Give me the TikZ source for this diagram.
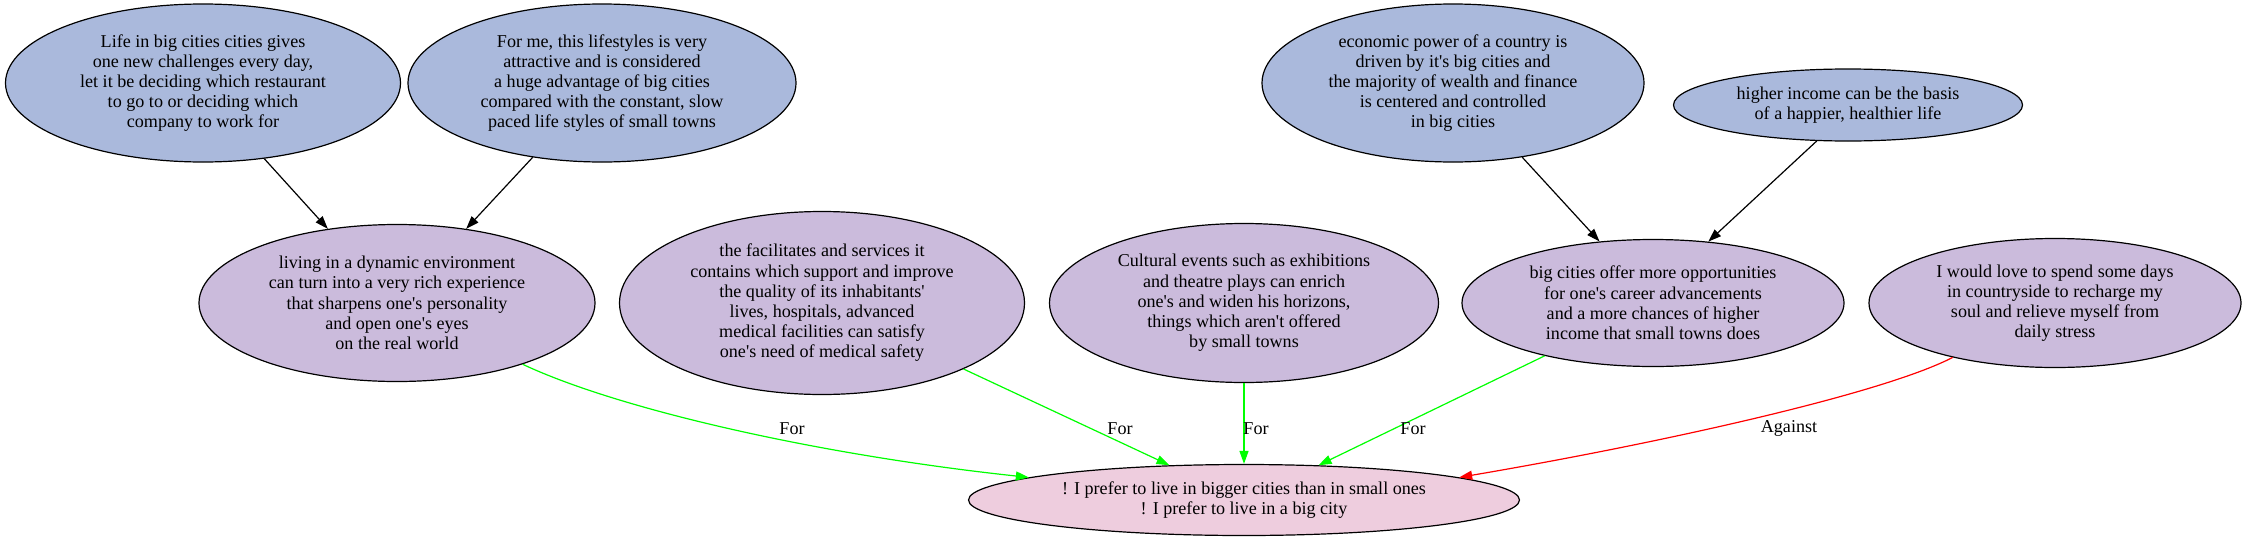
\documentclass[tikz,border=0pt]{standalone}
\usepackage{fontspec}
\setmainfont{Liberation Serif}[Ligatures=TeXOff]
\usetikzlibrary{shapes.geometric,arrows.meta}
\definecolor{argblue}{RGB}{170,185,220}
\definecolor{argpurple}{RGB}{203,187,220}
\definecolor{argpink}{RGB}{238,205,222}

\begin{document}
\begin{tikzpicture}[x=1pt,y=-1pt,
	every node/.style={font=\fontsize{18.1}{20.2}\selectfont, align=center},
	arg/.style={ellipse, draw=black, line width=1.2pt, inner sep=0pt},
	premise/.style={arg, fill=argblue},
	reason/.style={arg, fill=argpurple},
	claim/.style={arg, fill=argpink},
	link/.style={line width=1.2pt, -{Triangle[length=13pt,width=9pt]}},
	forlink/.style={link, color=green},
	againstlink/.style={link, color=red}]
		%%%%% START %%%%%
		\useasboundingbox (0,0) rectangle (2246,541);
		
		% top row
		\node[premise, minimum width=395pt, minimum height=158pt] (life) at (203,83) {Life in big cities cities gives\\one new challenges every day,\\let it be deciding which restaurant\\to go to or deciding which\\company to work for};
		\node[premise, minimum width=388pt, minimum height=158pt] (lifestyle) at (602,83) {For me, this lifestyles is very\\attractive and is considered\\a huge advantage of big cities\\compared with the constant, slow\\paced life styles of small towns};
		\node[premise, minimum width=382pt, minimum height=158pt] (economy) at (1453,83) {economic power of a country is\\driven by it's big cities and\\the majority of wealth and finance\\is centered and controlled\\in big cities};
		\node[premise, minimum width=349pt, minimum height=72pt] (income) at (1848,105) {higher income can be the basis\\of a happier, healthier life};
		
		% middle row
		\node[reason, minimum width=396pt, minimum height=157pt] (dynamic) at (397,303) {living in a dynamic environment\\can turn into a very rich experience\\that sharpens one's personality\\and open one's eyes\\on the real world};
		\node[reason, minimum width=405pt, minimum height=183pt] (facilities) at (822,303) {the facilitates and services it\\contains which support and improve\\the quality of its inhabitants'\\lives, hospitals, advanced\\medical facilities can satisfy\\one's need of medical safety};
		\node[reason, minimum width=389pt, minimum height=159pt] (culture) at (1244,303) {Cultural events such as exhibitions\\and theatre plays can enrich\\one's and widen his horizons,\\things which aren't offered\\by small towns};
		\node[reason, minimum width=382pt, minimum height=127pt] (career) at (1653,303) {big cities offer more opportunities\\for one's career advancements\\and a more chances of higher\\income that small towns does};
		\node[reason, minimum width=372pt, minimum height=129pt] (countryside) at (2055,303) {I would love to spend some days\\in countryside to recharge my\\soul and relieve myself from\\daily stress};
		
		% claim
		\node[claim, minimum width=551pt, minimum height=71pt] (claim) at (1244,500) {! I prefer to live in bigger cities than in small ones\\! I prefer to live in a big city};
		
		% support
		\draw[link] (life.-51) -- (dynamic.133);
		\draw[link] (lifestyle.-133) -- (dynamic.47);
		\draw[link] (economy.-47) -- (career.131);
		\draw[link] (income.-131) -- (career.48);
		
		% for / against
		\draw[forlink] (dynamic.-26) .. controls (620,410) and (820,455) .. (claim.174);
		\draw[forlink] (facilities.-25) -- (claim.155);
		\draw[forlink] (culture) -- (claim);
		\draw[forlink] (career.206) -- (claim.25);
		\draw[againstlink] (countryside.208) .. controls (1880,395) and (1650,445) .. (claim.6);
		
		\node (forDynamic) at (792,429) {For};
		\node (forFacilities) at (1120,429) {For};
		\node (forCulture) at (1256,429) {For};
		\node (forCareer) at (1413,429) {For};
		\node (againstCountry) at (1789,428) {Against};
		
		%%%%% END %%%%%
	\end{tikzpicture}
\end{document}
